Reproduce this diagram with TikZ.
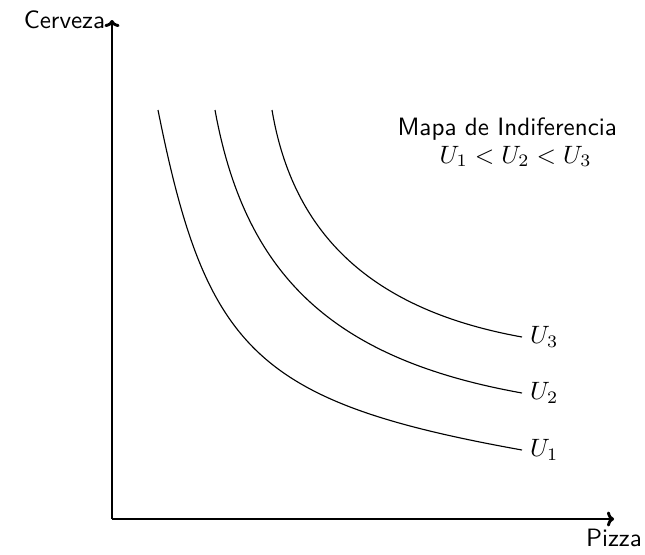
\documentclass[tikz,border=0pt]{standalone}
\usetikzlibrary{arrows.meta}
\begin{document}
\begin{tikzpicture}[x=0.014cm,y=-0.014cm,
  axis/.style={line width=1.15pt,-{To[width=6pt,length=2.8pt]}},
  ucurve/.style={line width=0.45pt},
  lbl/.style={font=\sffamily},
  ulbl/.style={right,inner sep=3pt}]
\useasboundingbox (0,0) rectangle (645,554);
% axes
\coordinate (O) at (112,519);
\coordinate (Ytip) at (112,20);
\coordinate (Xtip) at (614,519);
\draw[axis] (O) -- (Ytip);
\draw[axis] (O) -- (Xtip);
\node[lbl,left,inner sep=2.5pt] (cerveza) at (Ytip) {Cerveza};
\node[lbl,below,inner sep=4pt] (pizza) at (Xtip) {Pizza};
% curves
\coordinate (s1) at (158,110);
\coordinate (e1) at (522,450);
\coordinate (s2) at (215,110);
\coordinate (e2) at (522,393);
\coordinate (s3) at (272,110);
\coordinate (e3) at (522,337);
\draw[ucurve] (s1) .. controls (206,350) and (255,402) .. (e1);
\draw[ucurve] (s2) .. controls (245,275) and (332,359) .. (e2);
\draw[ucurve] (s3) .. controls (293,235) and (372,310) .. (e3);
\node[ulbl] (u1) at (e1) {$U_1$};
\node[ulbl] (u2) at (e2) {$U_2$};
\node[ulbl] (u3) at (e3) {$U_3$};
% legend
\node[lbl,anchor=base west,inner sep=0pt] (mapa) at (397,135) {Mapa de Indiferencia};
\node[anchor=base west,inner sep=0pt] (orden) at (439,163) {$U_1<U_2<U_3$};
\end{tikzpicture}
\end{document}
